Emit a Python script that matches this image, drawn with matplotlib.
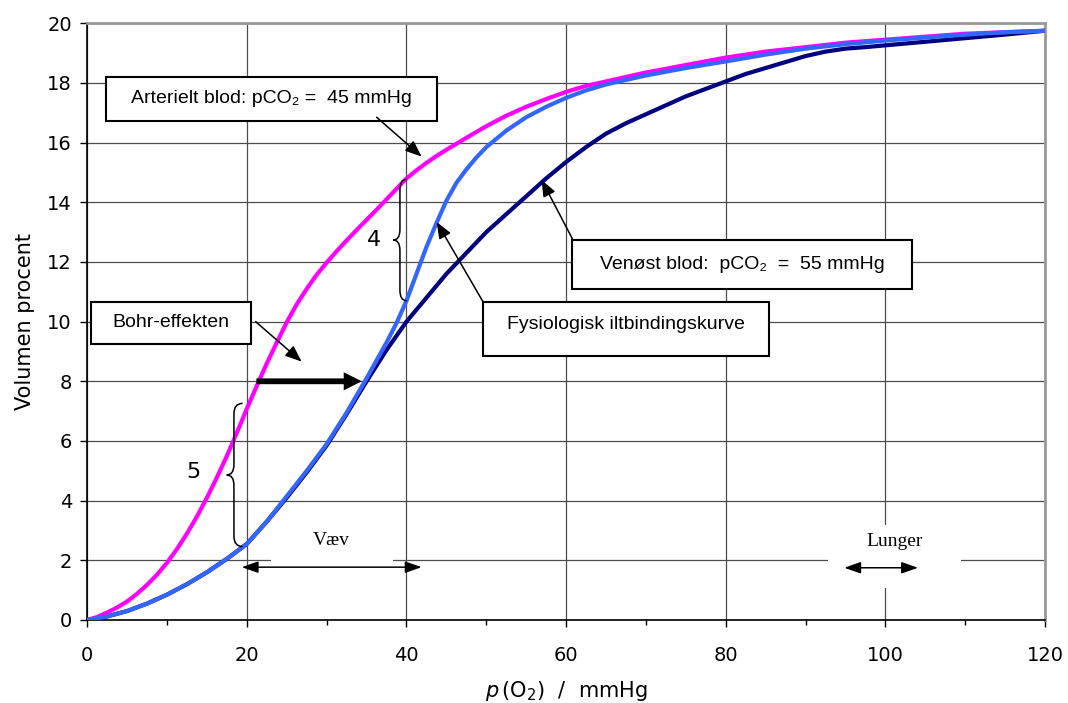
import matplotlib
matplotlib.use("Agg")
import matplotlib.pyplot as plt
from matplotlib.path import Path
from matplotlib.patches import PathPatch, Rectangle
from matplotlib.ticker import MultipleLocator

plt.rcParams['font.family'] = ['DejaVu Sans']
plt.rcParams['mathtext.fontset'] = 'dejavusans'

# ---- data ----
x_art = [0, 1.25, 2.5, 3.75, 5, 6.25, 7.5, 8.75, 10, 11.25, 12.5, 13.75, 15, 16.25, 17.5, 18.75,
         20, 21.25, 22.5, 23.75, 25, 26.25, 27.5, 28.75, 30, 31.25, 32.5, 33.75, 35, 36.25, 37.5,
         38.75, 40, 41.25, 42.5, 43.75, 45, 47.5, 50, 52.5, 55, 57.5, 60, 62.5, 65, 67.5, 70, 75,
         80, 85, 90, 95, 100, 105, 110, 115, 120]
y_art = [0, 0.1, 0.25, 0.42, 0.62, 0.88, 1.18, 1.52, 1.92, 2.38, 2.9, 3.47, 4.1, 4.78, 5.5, 6.28,
         7.08, 7.85, 8.6, 9.3, 9.98, 10.58, 11.1, 11.57, 11.98, 12.36, 12.72, 13.07, 13.41, 13.75, 14.1,
         14.45, 14.8, 15.07, 15.32, 15.55, 15.76, 16.16, 16.55, 16.9, 17.2, 17.46, 17.7, 17.9, 18.05,
         18.2, 18.35, 18.6, 18.85, 19.05, 19.2, 19.35, 19.45, 19.55, 19.65, 19.7, 19.75]

x_fys = [0, 2.5, 5, 7.5, 10, 12.5, 15, 17.5, 20, 22.5, 25, 27.5, 30, 32.5, 35, 36.25, 37.5,
         38.75, 40, 41.25, 42.5, 43.75, 45, 46.25, 47.5, 48.75, 50, 52.5, 55, 57.5, 60, 62.5, 65,
         67.5, 70, 75, 80, 85, 90, 95, 100, 105, 110, 115, 120]
y_fys = [0, 0.12, 0.3, 0.55, 0.85, 1.2, 1.6, 2.05, 2.55, 3.3, 4.15, 5.0, 5.9, 6.95, 8.1, 8.7, 9.3,
         9.95, 10.7, 11.6, 12.5, 13.3, 14.05, 14.65, 15.1, 15.5, 15.85, 16.4, 16.85, 17.2, 17.5,
         17.75, 17.95, 18.1, 18.25, 18.5, 18.72, 18.95, 19.15, 19.3, 19.42, 19.52, 19.62, 19.7, 19.75]

x_ven = [0, 2.5, 5, 7.5, 10, 12.5, 15, 17.5, 20, 22.5, 25, 27.5, 30, 32.5, 35, 37.5, 40, 42.5,
         45, 47.5, 50, 52.5, 55, 57.5, 60, 62.5, 65, 67.5, 70, 72.5, 75, 77.5, 80, 82.5, 85, 87.5,
         90, 92.5, 95, 97.5, 100, 105, 110, 115, 120]
y_ven = [0, 0.12, 0.3, 0.55, 0.85, 1.2, 1.6, 2.05, 2.55, 3.3, 4.1, 4.95, 5.85, 6.9, 8.0, 9.05,
         10.0, 10.8, 11.6, 12.3, 13.0, 13.6, 14.2, 14.8, 15.35, 15.85, 16.3, 16.65, 16.95, 17.25,
         17.55, 17.8, 18.05, 18.3, 18.5, 18.7, 18.9, 19.05, 19.15, 19.2, 19.26, 19.38, 19.5, 19.62,
         19.75]

x_ticks = [0, 20, 40, 60, 80, 100, 120]
y_ticks = [0, 2, 4, 6, 8, 10, 12, 14, 16, 18, 20]

fig = plt.figure(figsize=(10.68, 7.03), dpi=100)
ax = fig.add_axes([0.0817, 0.1181, 0.8967, 0.8488])
ax.set_xlim(0, 120)
ax.set_ylim(0, 20)
ax.set_xticks(x_ticks)
ax.set_yticks(y_ticks)
ax.xaxis.set_minor_locator(MultipleLocator(10))
ax.tick_params(axis='x', which='major', direction='out', length=5, width=1, labelsize=14, pad=14)
ax.tick_params(axis='x', which='minor', direction='out', length=3.5, width=1)
ax.tick_params(axis='y', which='major', direction='out', length=5, width=1, labelsize=14, pad=6)
ax.grid(True, which='major', color='#4d4d4d', lw=0.9, zorder=0)
ax.set_axisbelow(True)
for s in ['left', 'bottom']:
    ax.spines[s].set_color('black')
    ax.spines[s].set_linewidth(1.2)
for s in ['top', 'right']:
    ax.spines[s].set_color('#999999')
    ax.spines[s].set_linewidth(2)

ax.set_ylabel('Volumen procent', fontsize=15, labelpad=9)
ax.set_xlabel(r'$p\,(\mathrm{O}_2)$  /  mmHg', fontsize=15, labelpad=10)

# white label areas for Væv / Lunger
ax.add_patch(Rectangle((23.05, 1.0), 15.2, 2.35, fc='white', ec='none', zorder=1.5))
ax.add_patch(Rectangle((92.77, 1.07), 16.7, 2.11, fc='white', ec='none', zorder=1.5))

# curves
ax.plot(x_ven, y_ven, color='#000080', lw=3, zorder=3, solid_capstyle='butt', solid_joinstyle='round')
ax.plot(x_art, y_art, color='#FF00FF', lw=3, zorder=3.1, solid_capstyle='butt', solid_joinstyle='round')
ax.plot(x_fys, y_fys, color='#3366FF', lw=3, zorder=3.2, solid_capstyle='butt', solid_joinstyle='round')

box_font = ['Liberation Sans', 'DejaVu Sans']

def box(x0, x1, y0, y1, text, dy=0.0):
    ax.add_patch(Rectangle((x0, y0), x1 - x0, y1 - y0, fc='white', ec='black', lw=1.5, zorder=4))
    ax.text((x0 + x1) / 2, (y0 + y1) / 2 + dy, text, ha='center', va='center',
            fontsize=14, family=box_font, zorder=5)

box(2.34, 43.82, 16.73, 18.20, 'Arterielt blod: pCO\u2082 =  45 mmHg')
box(0.43, 20.51, 9.25, 10.67, 'Bohr-effekten')
box(49.54, 85.42, 8.86, 10.67, 'Fysiologisk iltbindingskurve', dy=0.15)
box(60.78, 103.37, 11.09, 12.72, 'Ven\u00f8st blod:  pCO\u2082  =  55 mmHg')

def arrow(x0, y0, x1, y1):
    ax.annotate('', xy=(x1, y1), xytext=(x0, y0),
                arrowprops=dict(arrowstyle='-|>,head_length=1.0,head_width=0.4',
                                color='black', lw=1.1, shrinkA=0, shrinkB=0,
                                mutation_scale=10), zorder=6)

arrow(36.26, 16.85, 41.9, 15.53)
arrow(21.1, 10.0, 26.86, 8.66)
arrow(49.58, 10.67, 43.78, 13.34)
arrow(60.86, 12.74, 56.93, 14.75)

# thick Bohr arrow
ax.annotate('', xy=(34.4, 8.0), xytext=(21.2, 8.0),
            arrowprops=dict(arrowstyle='simple,head_length=1.0,head_width=1.0,tail_width=0.32',
                            fc='black', ec='black', lw=0, shrinkA=0, shrinkB=0,
                            mutation_scale=13), zorder=6)

# double arrows
for (xa, xb, y) in [(19.35, 41.9, 1.77), (94.85, 104.1, 1.75)]:
    ax.annotate('', xy=(xb, y), xytext=(xa, y),
                arrowprops=dict(arrowstyle='<|-|>,head_length=1.0,head_width=0.35',
                                color='black', lw=1.1, shrinkA=0, shrinkB=0,
                                mutation_scale=10), zorder=6)

serif = ['Liberation Serif', 'DejaVu Serif']
ax.text(30.62, 2.68, 'V\u00e6v', ha='center', va='center', fontsize=14, family=serif, zorder=6)
ax.text(101.2, 2.62, 'Lunger', ha='center', va='center', fontsize=14, family=serif, zorder=6)

def brace(x_hook, x_spine, x_tip, y_bot, y_top, r=0.35):
    y_mid = (y_bot + y_top) / 2
    verts = [(x_hook, y_top), (x_spine, y_top), (x_spine, y_top - r),
             (x_spine, y_mid + r), (x_spine, y_mid), (x_tip, y_mid),
             (x_spine, y_mid), (x_spine, y_mid - r),
             (x_spine, y_bot + r), (x_spine, y_bot), (x_hook, y_bot)]
    codes = [Path.MOVETO, Path.CURVE3, Path.CURVE3,
             Path.LINETO, Path.CURVE3, Path.CURVE3,
             Path.CURVE3, Path.CURVE3,
             Path.LINETO, Path.CURVE3, Path.CURVE3]
    ax.add_patch(PathPatch(Path(verts, codes), fc='none', ec='black', lw=1.1, zorder=6))

brace(40.02, 39.18, 38.35, 10.70, 14.77)
brace(19.47, 18.38, 17.47, 2.46, 7.26)
ax.text(35.9, 12.74, '4', ha='center', va='center', fontsize=16, zorder=6)
ax.text(13.3, 4.97, '5', ha='center', va='center', fontsize=16, zorder=6)

fig.savefig('out.png', dpi=100)
